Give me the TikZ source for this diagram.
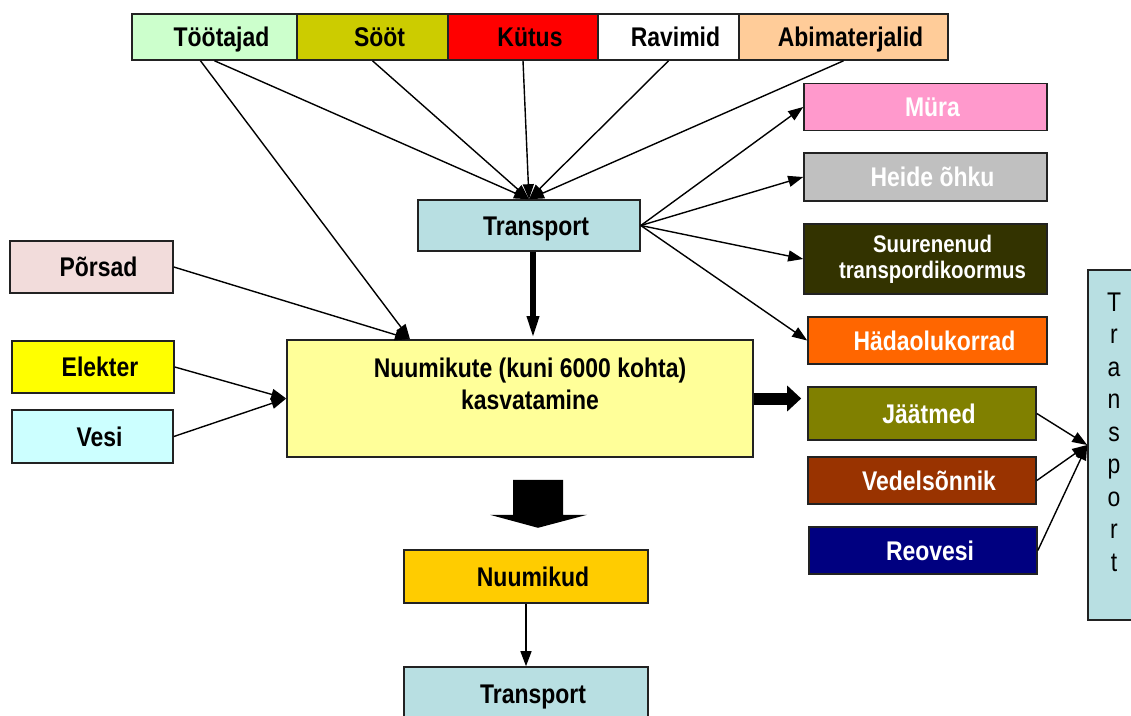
\documentclass[tikz,border=0pt]{standalone}
\usepackage{fontspec}
\setmainfont{Liberation Sans}[FakeStretch=0.85]
\usetikzlibrary{arrows.meta}
\definecolor{cTootajad}{HTML}{CCFFCC}
\definecolor{cSoot}{HTML}{CCCC00}
\definecolor{cKutus}{HTML}{FF0000}
\definecolor{cRavimid}{HTML}{FFFFFF}
\definecolor{cAbi}{HTML}{FFCC99}
\definecolor{cTrans}{HTML}{B8DFE2}
\definecolor{cMura}{HTML}{FF99CC}
\definecolor{cHeide}{HTML}{C0C0C0}
\definecolor{cSuur}{HTML}{333300}
\definecolor{cHada}{HTML}{FF6600}
\definecolor{cPorsad}{HTML}{F2DCDB}
\definecolor{cElekter}{HTML}{FFFF00}
\definecolor{cVesi}{HTML}{CCFFFF}
\definecolor{cMain}{HTML}{FFFF99}
\definecolor{cJaat}{HTML}{808000}
\definecolor{cVedel}{HTML}{993300}
\definecolor{cReo}{HTML}{000080}
\definecolor{cNuum}{HTML}{FFCC00}
\definecolor{cBorder}{HTML}{222222}
\begin{document}
\begin{tikzpicture}[x=1pt,y=-1pt,
  basebox/.style={draw=cBorder, line width=1.6pt, inner sep=0pt,
    font=\bfseries\fontsize{27}{32}\selectfont},
  box/.style={basebox, text height=19pt, text depth=0pt,
    execute at begin node={\hspace*{14pt}}},
  sz/.style 2 args={minimum width=#1pt, minimum height=#2pt},
  wt/.style={text=white},
  lbl/.style={inner sep=0pt, align=center, font=\bfseries\fontsize{27}{32}\selectfont},
  conn/.style={line width=1.4pt, draw=black, -{Triangle[length=15pt,width=11pt]}},
  thickarrow/.style={line width=5.5pt, -{Triangle[length=23pt,width=11pt]}},
  widearrow/.style={line width=12pt, -{Triangle[length=14pt,width=25pt]}}]
\useasboundingbox (0,0) rectangle (1131,715);
\clip (0,0) rectangle (1131,715);

% top row
\node[box, sz={165}{46}, fill=cTootajad] (t1) at (214.5,37) {Töötajad};
\node[box, sz={151}{46}, fill=cSoot] (t2) at (372.5,37) {Sööt};
\node[box, sz={150}{46}, fill=cKutus] (t3) at (523,37) {Kütus};
\node[box, sz={141}{46}, fill=cRavimid] (t4) at (668.5,37) {Ravimid};
\node[box, sz={209}{46}, fill=cAbi] (t5) at (843.5,37) {Abimaterjalid};

% transport
\node[box, sz={222}{51}, fill=cTrans] (tr) at (529,225.5) {Transport};

% outputs of transport
\node[box, wt, sz={243}{47}, fill=cMura] (m1) at (925.5,107) {Müra};
\node[box, wt, sz={243}{48}, fill=cHeide] (m2) at (925.5,177) {Heide õhku};
\node[basebox, wt, sz={243}{70}, fill=cSuur, align=center,
  font=\bfseries\fontsize{24}{26}\selectfont] (m3) at (925.5,259)
  {\hspace*{14pt}Suurenenud\\\hspace*{14pt}transpordikoormus};
\node[box, wt, sz={239}{47}, fill=cHada] (m4) at (927.5,340.5) {Hädaolukorrad};

% left inputs
\node[box, sz={163}{52}, fill=cPorsad] (p) at (91.5,267) {Põrsad};
\node[box, sz={162}{52}, fill=cElekter] (e) at (93,367) {Elekter};
\node[box, sz={161}{53}, fill=cVesi] (v) at (92.5,436.5) {Vesi};

% main
\node[basebox, sz={466}{117}, fill=cMain] (main) at (520,398.5) {};
\node[lbl] (maintxt) at ([xshift=10pt,yshift=15pt]main.center)
  {Nuumikute (kuni 6000 kohta)\\kasvatamine};

% waste outputs
\node[box, wt, sz={228}{53}, fill=cJaat] (j) at (922,413.5) {Jäätmed};
\node[box, wt, sz={228}{47}, fill=cVedel] (vs) at (922,480.5) {Vedelsõnnik};
\node[box, wt, sz={228}{47}, fill=cReo] (r) at (923,550.5) {Reovesi};

% vertical transport
\node[basebox, sz={52}{350}, fill=cTrans] (vt) at (1114,445) {};
\node[lbl, font=\fontsize{27}{32.5}\selectfont] (vttxt) at ([yshift=13pt]vt.center)
  {T\\r\\a\\n\\s\\p\\o\\r\\t};

% bottom
\node[box, sz={244}{53}, fill=cNuum] (n) at (526,576.5) {Nuumikud};
\node[box, sz={244}{53}, fill=cTrans] (tb) at (526,693.5) {Transport};

% connectors from top row
\draw[conn] ([xshift=-14pt]t1.south) -- ([xshift=-110pt]main.north);
\draw[conn] (t1.south) -- (tr.north);
\draw[conn] (t2.south) -- (tr.north);
\draw[conn] (t3.south) -- (tr.north);
\draw[conn] (t4.south) -- (tr.north);
\draw[conn] (t5.south) -- (tr.north);

% transport outputs
\draw[conn] (tr.east) -- (m1.west);
\draw[conn] (tr.east) -- (m2.west);
\draw[conn] (tr.east) -- (m3.west);
\draw[conn] (tr.east) -- (m4.west);

% left inputs
\draw[conn] (p.east) -- ([xshift=-110pt]main.north);
\draw[conn] (e.east) -- (main.west);
\draw[conn] (v.east) -- (main.west);

% waste to vertical transport
\draw[conn] (j.east) -- (vt.west);
\draw[conn] (vs.east) -- (vt.west);
\draw[conn] (r.east) -- (vt.west);

% thick arrows
\draw[thickarrow] ([xshift=4pt]tr.south) -- ([xshift=4pt]tr.south |- main.north);
\draw[widearrow] (main.east) -- ([xshift=-6pt]j.west |- main.east);

% block arrow down
\coordinate (bd) at ([xshift=18pt,yshift=-22pt]main.south);
\fill[black] (bd) ++(-25,0) -- ++(50,0) -- ++(0,35) -- ++(24,0) -- ++(-49,13)
  -- ++(-48,-13) -- ++(23,0) -- cycle;

\draw[conn] (n.south) -- (tb.north);
\end{tikzpicture}
\end{document}
